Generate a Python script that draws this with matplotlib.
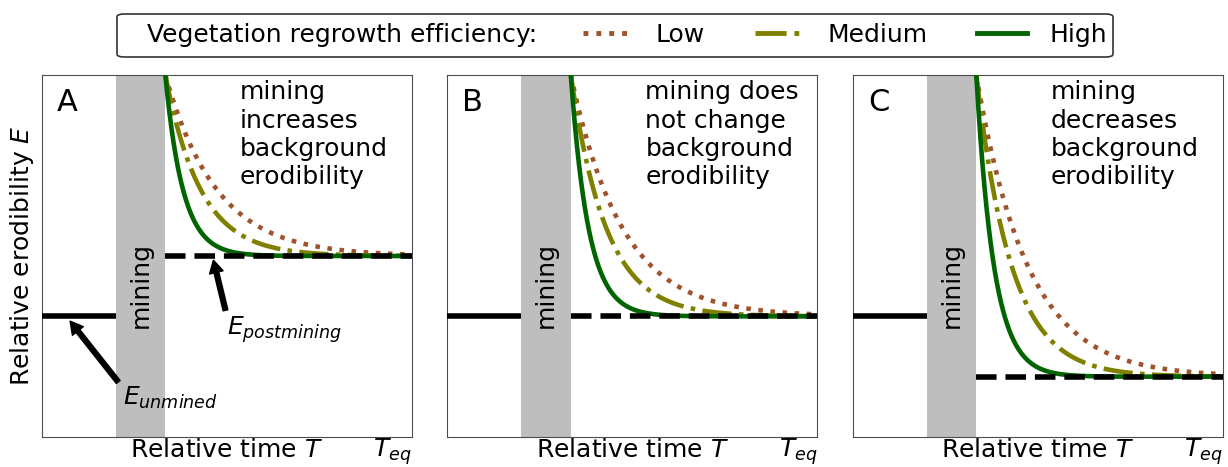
import numpy as np
import matplotlib
matplotlib.use('Agg')
import matplotlib.pyplot as plt
from matplotlib.lines import Line2D
from matplotlib.patches import FancyBboxPatch

# Time axis (relative units), mining period, and erodibility levels
t_end = 15.0
mining_start, mining_end = 3.0, 5.0
e_unmined = 1.0
e_start = 3.0                       # erodibility right after mining (top of axes)
panel_labels = ['A', 'B', 'C']
e_postmining = [1.5, 1.0, 0.5]      # per panel
panel_texts = ['mining\nincreases\nbackground\nerodibility',
               'mining does\nnot change\nbackground\nerodibility',
               'mining\ndecreases\nbackground\nerodibility']

# Vegetation regrowth efficiency: decay rates of erodibility after mining
eff_names = ['Low', 'Medium', 'High']
eff_rates = [0.48, 0.7, 1.4]
eff_colors = ['sienna', 'olive', 'darkgreen']
eff_styles = [':', '-.', '-']

FS = 18

fig, axes = plt.subplots(1, 3, figsize=(12.28, 4.67), dpi=100)
fig.subplots_adjust(left=0.0342, right=0.9959, bottom=0.0642, top=0.8394, wspace=0.096)

for i, ax in enumerate(axes):
    ep = e_postmining[i]

    # mining period
    ax.axvspan(mining_start, mining_end, color='#bebebe', lw=0, zorder=1)
    ax.text((mining_start + mining_end) / 2, 1.26, 'mining', rotation=90,
            ha='center', va='center', fontsize=FS, zorder=5)

    # recovery curves
    t = np.linspace(mining_end, t_end, 600)
    for rate, col, ls in zip(eff_rates, eff_colors, eff_styles):
        e = ep + (e_start - ep) * np.exp(-rate * (t - mining_end))
        ax.plot(t, e, color=col, ls=ls, lw=3.3, zorder=3)

    # unmined and post-mining levels
    ax.plot([0, mining_start], [e_unmined, e_unmined], color='k', lw=4,
            solid_capstyle='butt', zorder=4)
    ax.plot([mining_end, t_end], [ep, ep], color='k', lw=4, ls='--', zorder=4)

    ax.set_xlim(0, t_end)
    ax.set_ylim(0, 3)
    ax.set_xticks([])
    ax.set_yticks([])
    for s in ax.spines.values():
        s.set_color('0.3')

    ax.set_xlabel('Relative time $T$', fontsize=FS, labelpad=1)
    ax.text(1.0, 0.002, '$T_{eq}$', transform=ax.transAxes, ha='right',
            va='top', fontsize=FS)
    ax.text(0.04, 0.965, panel_labels[i], transform=ax.transAxes, ha='left',
            va='top', fontsize=22)
    ax.text(0.535, 0.985, panel_texts[i], transform=ax.transAxes, ha='left',
            va='top', fontsize=FS, linespacing=1.22)

axes[0].set_ylabel('Relative erodibility $E$', fontsize=FS)

# arrows in panel A
arrow_kw = dict(facecolor='black', edgecolor='black', width=3.5, headwidth=10,
                headlength=9, shrink=0)
axes[0].annotate('', xy=(1.14, 0.96), xytext=(3.09, 0.456), arrowprops=arrow_kw, zorder=6)
axes[0].text(3.29, 0.323, '$E_{unmined}$', ha='left', va='center', fontsize=FS)
axes[0].annotate('', xy=(6.95, 1.465), xytext=(7.44, 1.05), arrowprops=arrow_kw, zorder=6)
axes[0].text(7.52, 0.89, '$E_{postmining}$', ha='left', va='center', fontsize=FS)

# legend box across the top
box = FancyBboxPatch((117 / 1228, 1 - 57 / 467), (1113 - 117) / 1228, 43 / 467,
                     boxstyle='round,pad=0,rounding_size=0.006',
                     transform=fig.transFigure, facecolor='white',
                     edgecolor='0.2', lw=1.2)
fig.add_artist(box)
fig.text(147 / 1228, 1 - 35 / 467, 'Vegetation regrowth efficiency:',
         ha='left', va='center', fontsize=FS)
handles = [Line2D([], [], color=c, ls=s, lw=3.5)
           for c, s in zip(eff_colors, eff_styles)]
fig.legend(handles, eff_names, ncol=3, frameon=False, fontsize=FS,
           handlelength=2, handletextpad=0.9, columnspacing=2,
           loc='center', bbox_to_anchor=(845 / 1228, 1 - 35 / 467))

fig.savefig('out.png', dpi=100)
